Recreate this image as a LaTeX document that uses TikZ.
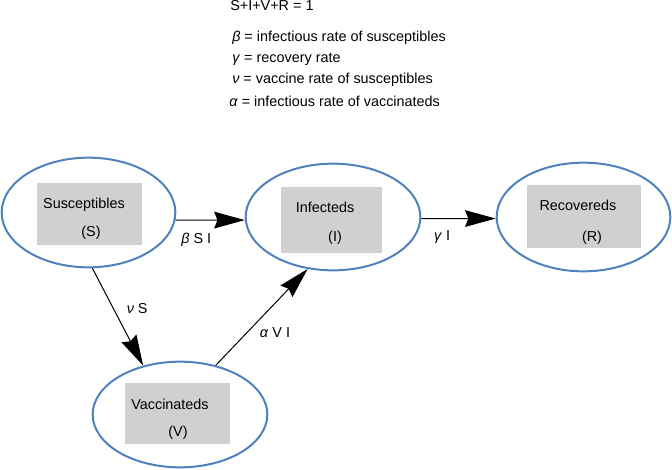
\documentclass[tikz,border=0pt]{standalone}
\usepackage{fontspec}
\setmainfont{Liberation Sans}
\usetikzlibrary{shapes.geometric,arrows.meta}
\definecolor{ellblue}{RGB}{79,129,189}
\definecolor{boxgray}{RGB}{208,208,208}
\begin{document}
\begin{tikzpicture}[x=0.75pt,y=-0.75pt,font=\fontsize{10.8}{13}\selectfont,
  compartment/.style={ellipse,draw=ellblue,line width=1.5pt,inner sep=0pt},
  namebox/.style={fill=boxgray,inner sep=0pt},
  flow/.style={-{Stealth[length=23pt,width=12.5pt,inset=2.5pt]},line width=0.75pt},
  rate/.style={inner sep=1pt},
  legend/.style={anchor=base west,inner sep=0pt}]
\useasboundingbox (0,0) rectangle (672,469);
%
\node[legend] (eqsum) at (230,10) {S+I+V+R = 1};
\node[legend] (defbeta) at (232,41) {\textit{β} = infectious rate of susceptibles};
\node[legend] (defgamma) at (232,62) {\textit{γ} = recovery rate};
\node[legend] (defnu) at (232,83) {\textit{ν} = vaccine rate of susceptibles};
\node[legend] (defalpha) at (229,106) {\textit{α} = infectious rate of vaccinateds};
%
\node[namebox,minimum width=78.75pt,minimum height=46.5pt] (Sbox) at (89.5,214) {};
\node[compartment,minimum width=130.25pt,minimum height=82.25pt] (S) at (88.5,212.5) {};
\node (Sname) at (84,205) {Susceptibles};
\node (Ssym) at (91,233) {(S)};
%
\node[namebox,minimum width=75.75pt,minimum height=49.5pt] (Ibox) at (331.5,220) {};
\node[compartment,minimum width=131pt,minimum height=80pt] (I) at (333,217) {};
\node (Iname) at (325,207) {Infecteds};
\node (Isym) at (335,238) {(I)};
%
\node[namebox,minimum width=85.5pt,minimum height=47.25pt] (Rbox) at (584,216.5) {};
\node[compartment,minimum width=130.25pt,minimum height=81.5pt] (R) at (583.5,217) {};
\node (Rname) at (578,205) {Recovereds};
\node (Rsym) at (592,238) {(R)};
%
\node[namebox,minimum width=78.75pt,minimum height=45.75pt] (Vbox) at (177.5,413.5) {};
\node[compartment,minimum width=131pt,minimum height=79.25pt] (V) at (180,414.5) {};
\node (Vname) at (170,404) {Vaccinateds};
\node (Vsym) at (178,433) {(V)};
%
\draw[flow] (S.-5.5) -- (I.182) node[rate,pos=.3,yshift=-15pt] (bSI) {\textit{β} S I};
\draw[flow] (I.-1.3) -- (R.181.3) node[rate,pos=.28,yshift=-13.5pt] (gI) {\textit{γ} I};
\draw[flow] (S.-86) -- (V.127) node[rate,pos=.41,xshift=18pt] (nS) {\textit{ν} S};
\draw[flow] (V.54) -- (I.-116) node[rate,pos=.34,xshift=21pt] (aVI) {\textit{α} V I};
\end{tikzpicture}
\end{document}
